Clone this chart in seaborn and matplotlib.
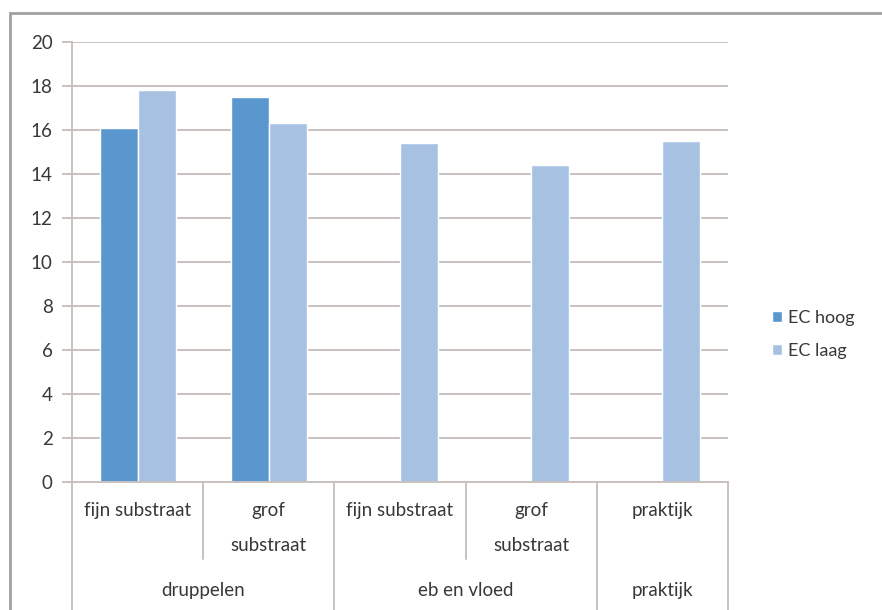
import numpy as np
import pandas as pd
import matplotlib
matplotlib.use("Agg")
import matplotlib.pyplot as plt
import seaborn as sns
from matplotlib.patches import Rectangle

# data
methods = ["druppelen", "druppelen", "eb en vloed", "eb en vloed", "praktijk"]
substrates = ["fijn substraat", "grof\nsubstraat", "fijn substraat", "grof\nsubstraat", "praktijk"]
ec_hoog = [16.1, 17.5, np.nan, np.nan, np.nan]
ec_laag = [17.8, 16.3, 15.4, 14.4, 15.5]
series = ["EC hoog", "EC laag"]
colors = ["#5b97cf", "#a7c1e2"]
yticks = [0, 2, 4, 6, 8, 10, 12, 14, 16, 18, 20]

rows = []
for i in range(len(substrates)):
    rows.append({"cat": i, "serie": "EC hoog", "waarde": ec_hoog[i]})
    rows.append({"cat": i, "serie": "EC laag", "waarde": ec_laag[i]})
df = pd.DataFrame(rows)

sns.set_style("white")
plt.rcParams["font.family"] = ["Lato", "DejaVu Sans"]
txt = "#383838"
grid = "#c9c1be"
fs = 13.5

fig = plt.figure(figsize=(8.82, 6.10), dpi=100)
ax = fig.add_axes([0.0816, 0.2103, 0.7437, 0.7213])

sns.barplot(data=df, x="cat", y="waarde", hue="serie", hue_order=series,
            palette=colors, width=0.58, saturation=1, ax=ax,
            order=list(range(len(substrates))))

ax.set_ylim(0, 20)
ax.set_xlim(-0.5, len(substrates) - 0.5)
ax.set_yticks(yticks)
ax.set_yticklabels([str(v) for v in yticks], fontsize=fs, color=txt)
ax.yaxis.grid(True, color=grid, linewidth=1.4)
ax.set_axisbelow(True)
ax.tick_params(axis="y", length=7, width=1.4, color=grid, pad=7, left=True)
ax.set_xticks([])
ax.set_xlabel("")
ax.set_ylabel("")
for side in ["top", "right"]:
    ax.spines[side].set_visible(False)
ax.spines["left"].set_color(grid)
ax.spines["bottom"].set_color(grid)
ax.spines["left"].set_linewidth(1.4)
ax.spines["bottom"].set_linewidth(1.4)

# two level category axis
tr = ax.get_xaxis_transform()
n = len(substrates)
for i, lab in enumerate(substrates):
    ax.text(i, -0.045, lab, transform=tr, ha="center", va="top",
            fontsize=fs, color=txt, linespacing=2.3)
bounds = [-0.5]
for i in range(1, n):
    if methods[i] != methods[i - 1]:
        bounds.append(i - 0.5)
bounds.append(n - 0.5)
for b in np.arange(-0.5, n, 1.0):
    deep = b in bounds
    ax.plot([b, b], [0, -0.3 if deep else -0.175], transform=tr,
            color=grid, linewidth=1.4, clip_on=False)
for a, b in zip(bounds[:-1], bounds[1:]):
    ax.text((a + b) / 2, -0.228, methods[int(a + 0.5)], transform=tr,
            ha="center", va="top", fontsize=fs, color=txt)

ax.legend(loc="center left", bbox_to_anchor=(0.857, 0.452),
          bbox_transform=fig.transFigure, frameon=False, fontsize=13,
          handlelength=0.55, handleheight=0.55, handletextpad=0.35,
          labelspacing=0.95, labelcolor=txt)

# outer chart border
fig.patches.append(Rectangle((10 / 882, -0.1), 1.2, 1 - 13 / 610 + 0.1,
                             transform=fig.transFigure, fill=False,
                             edgecolor="#a0a0a0", linewidth=2))

fig.savefig("out.png", dpi=100)
